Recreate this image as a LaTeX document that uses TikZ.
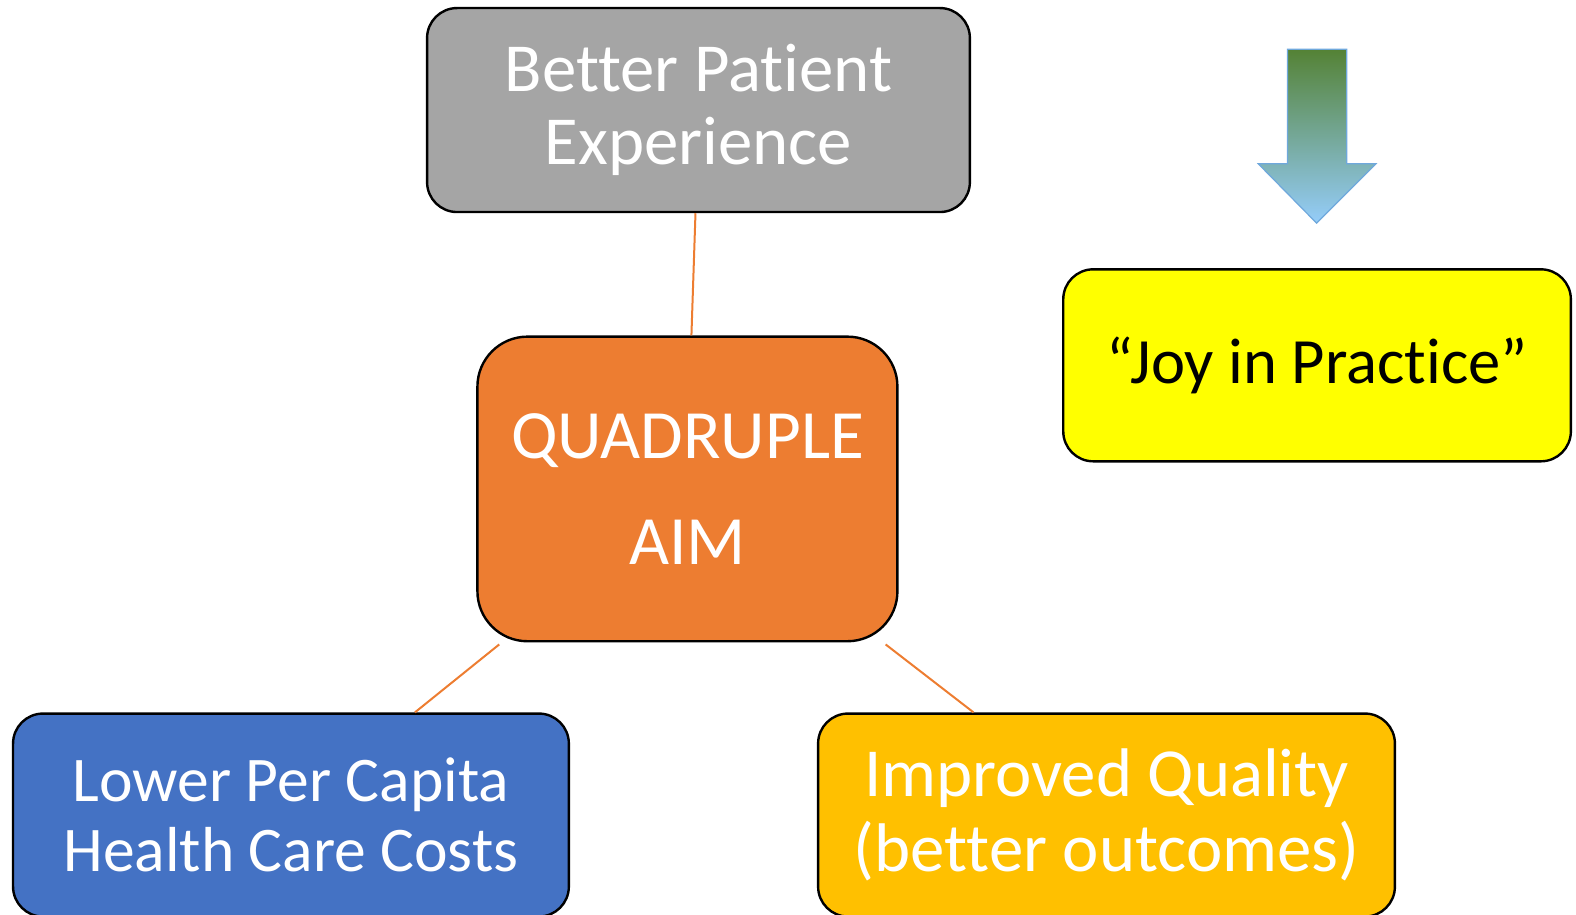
\documentclass[tikz,border=0pt]{standalone}
\usepackage{fontspec}
\setmainfont{Carlito}[Ligatures={NoCommon,NoContextual}]
\definecolor{cgray}{HTML}{A5A5A5}
\definecolor{corange}{HTML}{ED7D31}
\definecolor{cblue}{HTML}{4472C4}
\definecolor{cgold}{HTML}{FFC000}
\definecolor{cyellow}{HTML}{FFFF00}
\definecolor{agreen}{HTML}{548235}
\definecolor{ablue}{HTML}{95CDFA}
\definecolor{aedge}{HTML}{6FA8DC}
\begin{document}
\begin{tikzpicture}[x=0.5025pt,y=-0.5025pt,
  box/.style={draw=black,line width=1.2pt,align=center,inner sep=0pt,
    font=\fontsize{34.4}{36.8}\selectfont,text=white},
  link/.style={draw=corange,line width=1pt}]
\useasboundingbox (0pt,0pt) rectangle (788pt,-457.5pt);
\clip (0pt,0pt) rectangle (788pt,-457.5pt);
\node[box,fill=cgray,rounded corners=15pt,minimum width=271.4pt,minimum height=102pt] (gray) at (695,109.5) {Better Patient\\Experience};
\node[box,fill=corange,rounded corners=25pt,minimum width=210pt,minimum height=152.3pt,font=\fontsize{34.6}{52.8}\selectfont] (orange) at (684,486.5) {QUADRUPLE\\AIM};
\node[box,fill=cblue,rounded corners=15pt,minimum width=277.9pt,minimum height=101.5pt,font=\fontsize{31.8}{35.2}\selectfont] (blue) at (289.5,811) {Lower Per Capita\\Health Care Costs};
\node[box,fill=cgold,rounded corners=15pt,minimum width=288.4pt,minimum height=101.5pt,font=\fontsize{34.4}{37.7}\selectfont] (gold) at (1101,811) {Improved Quality\\(better outcomes)};
\node[box,fill=cyellow,rounded corners=15pt,minimum width=253.8pt,minimum height=96pt,text=black,font=\fontsize{32.3}{36}\selectfont] (yellow) at (1310.5,363.5) {“Joy in Practice”};
\draw[link] ([xshift=-1.5pt]gray.south) -- ([xshift=2pt]orange.north);
\draw[link] ([xshift=11.5pt,yshift=-1pt]orange.south west) -- ([xshift=62pt]blue.north);
\draw[link] ([xshift=-6.5pt,yshift=-1pt]orange.south east) -- ([xshift=-66.5pt]gold.north);
\shade[top color=agreen,bottom color=ablue,draw=aedge,line width=0.6pt]
  (1281,49) -- (1340,49) -- (1340,163) -- (1369,163) -- (1310,222) -- (1252,163) -- (1281,163) -- cycle;
\end{tikzpicture}
\end{document}
